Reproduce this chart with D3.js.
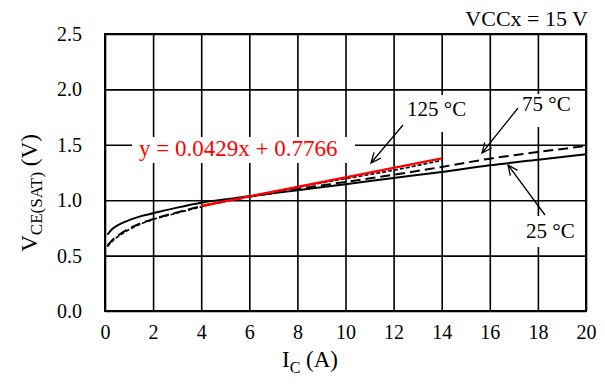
<!DOCTYPE html>
<html><head><meta charset="utf-8">
<script src="https://cdn.jsdelivr.net/npm/d3@7"></script>
<style>body{margin:0;background:#fff}svg{display:block}text{font-family:"Liberation Serif","Times New Roman",serif}</style>
</head><body><svg id="c" width="605" height="388"></svg>
<script>
// Data
const ic = [0.1, 0.3, 0.6, 1, 1.5, 2, 3, 4, 6, 8, 10, 12, 14, 16, 18, 20];
const v25 = [0.69, 0.74, 0.782, 0.82, 0.856, 0.882, 0.933, 0.977, 1.035, 1.09, 1.145, 1.20, 1.255, 1.315, 1.365, 1.414];
const v75 = [0.59, 0.64, 0.69, 0.743, 0.793, 0.83, 0.89, 0.945, 1.03, 1.10, 1.165, 1.23, 1.30, 1.375, 1.435, 1.489];
const ic125 = [0.1, 0.3, 0.6, 1, 1.5, 2, 3, 4, 6, 8, 10, 12, 14];
const v125 = [0.58, 0.63, 0.68, 0.735, 0.787, 0.825, 0.885, 0.94, 1.035, 1.115, 1.195, 1.27, 1.36];
const trendX = [4, 14];
const trendY = [0.948, 1.377];
const xTicks = [0, 2, 4, 6, 8, 10, 12, 14, 16, 18, 20];
const yTicks = [0.0, 0.5, 1.0, 1.5, 2.0, 2.5];

const svg = d3.select("#c");
const L = 105, R = 586, T = 34, B = 311;
const x = d3.scaleLinear().domain([0, 20]).range([L, R]);
const y = d3.scaleLinear().domain([0, 2.5]).range([B, T]);

// grid via axes
svg.append("g").attr("transform", `translate(0,${B})`)
  .call(d3.axisBottom(x).tickValues(xTicks).tickSize(-(B - T)).tickFormat(""))
  .call(g => { g.select(".domain").remove(); g.selectAll("line").attr("stroke", "#000").attr("stroke-width", 1.6); });
svg.append("g").attr("transform", `translate(${L},0)`)
  .call(d3.axisLeft(y).tickValues(yTicks).tickSize(-(R - L)).tickFormat(""))
  .call(g => { g.select(".domain").remove(); g.selectAll("line").attr("stroke", "#000").attr("stroke-width", 1.6); });

// tick labels
svg.append("g").attr("transform", `translate(0,${B})`)
  .call(d3.axisBottom(x).tickValues(xTicks).tickSize(0).tickPadding(10).tickFormat(d3.format("d")))
  .call(g => { g.select(".domain").remove(); g.selectAll("text").attr("font-size", 20).attr("fill", "#000").attr("dy", "0.9em")
    .style("font-family", '"Liberation Serif",serif'); });
svg.append("g").attr("transform", `translate(${L},0)`)
  .call(d3.axisLeft(y).tickValues(yTicks).tickSize(0).tickPadding(23).tickFormat(d3.format(".1f")))
  .call(g => { g.select(".domain").remove(); g.selectAll("text").attr("font-size", 20).attr("fill", "#000")
    .style("font-family", '"Liberation Serif",serif'); });

// frame
svg.append("rect").attr("x", L).attr("y", T).attr("width", R - L).attr("height", B - T)
  .attr("fill", "none").attr("stroke", "#000").attr("stroke-width", 2);

// white label boxes (cover grid)
const boxes = [[132, 137, 223, 26], [398, 95, 75, 37], [515, 94, 67, 33], [518, 216, 66, 31]];
svg.selectAll("rect.bx").data(boxes).enter().append("rect")
  .attr("x", d => d[0]).attr("y", d => d[1]).attr("width", d => d[2]).attr("height", d => d[3]).attr("fill", "#fff");

const line = d3.line().x(d => x(d[0])).y(d => y(d[1])).curve(d3.curveMonotoneX);
svg.append("path").attr("d", line(d3.zip(ic, v25))).attr("fill", "none").attr("stroke", "#000").attr("stroke-width", 2);
svg.append("path").attr("d", line(d3.zip(ic, v75))).attr("fill", "none").attr("stroke", "#000").attr("stroke-width", 2).attr("stroke-dasharray", "10,5");
svg.append("path").attr("d", line(d3.zip(ic125, v125))).attr("fill", "none").attr("stroke", "#000").attr("stroke-width", 1.6).attr("stroke-dasharray", "4,2");
svg.append("path").attr("d", d3.line().x(d => x(d[0])).y(d => y(d[1]))(d3.zip(trendX, trendY)))
  .attr("fill", "none").attr("stroke", "#ff0000").attr("stroke-width", 2.4);

// arrows
function arrow(x1, y1, x2, y2) {
  const a = Math.atan2(y2 - y1, x2 - x1), s = 11, w = 0.42;
  const p = "M" + x1 + "," + y1 + "L" + x2 + "," + y2 +
    "M" + (x2 - s * Math.cos(a - w)) + "," + (y2 - s * Math.sin(a - w)) + "L" + x2 + "," + y2 +
    "L" + (x2 - s * Math.cos(a + w)) + "," + (y2 - s * Math.sin(a + w));
  svg.append("path").attr("d", p).attr("fill", "none").attr("stroke", "#000").attr("stroke-width", 1.3);
}
arrow(403, 125, 371, 163);
arrow(518, 108, 482, 153);
arrow(545, 215, 508, 165);

// labels
const txt = (t, xx, yy, size, fill, anchor) => svg.append("text").attr("x", xx).attr("y", yy)
  .attr("font-size", size).attr("fill", fill || "#000").attr("text-anchor", anchor || "start").text(t);
txt("VCCx = 15 V", 588, 26, 22, "#000", "end");
txt("125 °C", 407, 116, 21);
txt("75 °C", 522, 111, 21);
txt("25 °C", 526, 238, 21);
txt("y = 0.0429x + 0.7766", 139, 156, 23, "#ff0000");

// axis titles
const xt = svg.append("text").attr("x", 310).attr("y", 367).attr("font-size", 23).attr("text-anchor", "middle");
xt.append("tspan").text("I");
xt.append("tspan").attr("font-size", 16).attr("dy", 6).text("C");
xt.append("tspan").attr("dy", -6).text(" (A)");

const yt = svg.append("text").attr("transform", "translate(37,193) rotate(-90)").attr("font-size", 23).attr("text-anchor", "middle");
yt.append("tspan").text("V");
yt.append("tspan").attr("font-size", 17).attr("dy", 5).text("CE(SAT)");
yt.append("tspan").attr("dy", -5).text(" (V)");
</script></body></html>
